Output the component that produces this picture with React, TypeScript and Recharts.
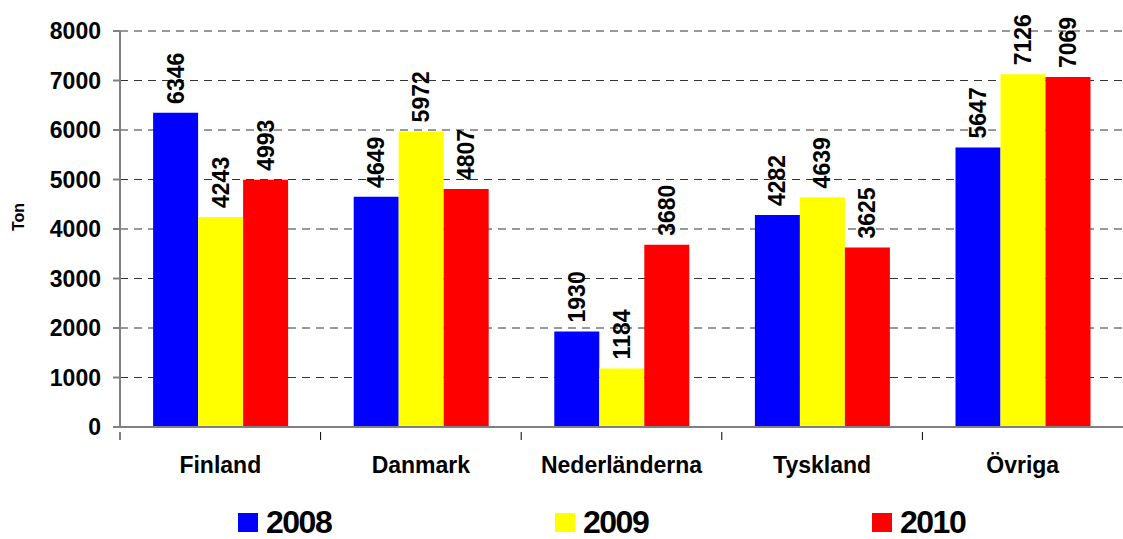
import { Bar, BarChart, CartesianGrid, LabelList, Legend, XAxis, YAxis } from "recharts";

const categories = ["Finland", "Danmark", "Nederländerna", "Tyskland", "Övriga"];
const values2008 = [6346, 4649, 1930, 4282, 5647];
const values2009 = [4243, 5972, 1184, 4639, 7126];
const values2010 = [4993, 4807, 3680, 3625, 7069];
const yTicks = [0, 1000, 2000, 3000, 4000, 5000, 6000, 7000, 8000];

const series = [
  { key: "y2008", name: "2008", color: "#0000ff" },
  { key: "y2009", name: "2009", color: "#ffff00" },
  { key: "y2010", name: "2010", color: "#ff0000" },
];

const data = categories.map((c, i) => ({
  name: c,
  y2008: values2008[i],
  y2009: values2009[i],
  y2010: values2010[i],
}));

const font = "'Liberation Sans', Arial, sans-serif";

const ValueLabel = (props) => {
  const { x, y, width, value } = props;
  const cx = x + width / 2;
  const ty = y - 9;
  return (
    <text
      x={cx}
      y={ty}
      transform={`rotate(-90 ${cx} ${ty})`}
      textAnchor="start"
      dominantBaseline="central"
      fontFamily={font}
      fontWeight="bold"
      fontSize={23}
      fill="#000"
    >
      {value}
    </text>
  );
};

// category label plus a small tick mark on the left boundary of each category
const CategoryTick = (props) => {
  const { x, y, payload } = props;
  const half = payload.offset || 0;
  return (
    <g>
      <line x1={x - half} y1={y - 3} x2={x - half} y2={y + 5} stroke="#000" strokeWidth={1} />
      <text
        x={x}
        y={y + 30}
        textAnchor="middle"
        dominantBaseline="central"
        fontFamily={font}
        fontWeight="bold"
        fontSize={23}
        fill="#000"
      >
        {payload.value}
      </text>
    </g>
  );
};

const YTitle = ({ viewBox }) => {
  const tx = 18;
  const ty = viewBox.y + viewBox.height / 2 - 12;
  return (
    <text
      x={tx}
      y={ty}
      transform={`rotate(-90 ${tx} ${ty})`}
      textAnchor="middle"
      dominantBaseline="central"
      style={{ fontFamily: font, fontWeight: "bold", fontSize: 16, fill: "#000" }}
    >
      Ton
    </text>
  );
};

const LegendBox = () => (
  <div style={{ position: "relative", height: 40, fontFamily: font }}>
    {series.map((s, i) => (
      <div
        key={s.key}
        style={{
          position: "absolute",
          left: 238 + i * 317,
          top: 7,
          display: "flex",
          alignItems: "center",
          height: 32,
        }}
      >
        <span style={{ width: 20, height: 19, background: s.color, display: "inline-block", marginRight: 8 }} />
        <span style={{ fontSize: 32, fontWeight: "bold", color: "#000", letterSpacing: -1.5, lineHeight: "32px" }}>
          {s.name}
        </span>
      </div>
    ))}
  </div>
);

export default function App() {
  return (
    <div style={{ position: "absolute", left: 0, top: 0, background: "#fff" }}>
      <BarChart
        width={1123}
        height={539}
        data={data}
        margin={{ top: 31, right: 0, bottom: 0, left: 0 }}
        barCategoryGap="16.5%"
        barGap={0}
      >
        <CartesianGrid vertical={false} stroke="#333" strokeDasharray="8 6" />
        <XAxis
          dataKey="name"
          height={72}
          stroke="#808080"
          strokeWidth={2}
          tickLine={false}
          tick={<CategoryTick />}
        />
        <YAxis
          width={120}
          domain={[0, 8000]}
          ticks={yTicks}
          interval={0}
          stroke="#808080"
          strokeWidth={2}
          tickSize={7}
          tick={{ fontFamily: font, fontWeight: "bold", fontSize: 23, fill: "#000", dx: -10 }}
          label={{ value: "Ton", content: YTitle }}
        />
        <Legend verticalAlign="bottom" height={40} content={() => <LegendBox />} />
        {series.map((s) => (
          <Bar key={s.key} dataKey={s.key} name={s.name} fill={s.color} isAnimationActive={false}>
            <LabelList dataKey={s.key} content={ValueLabel} />
          </Bar>
        ))}
      </BarChart>
    </div>
  );
}
